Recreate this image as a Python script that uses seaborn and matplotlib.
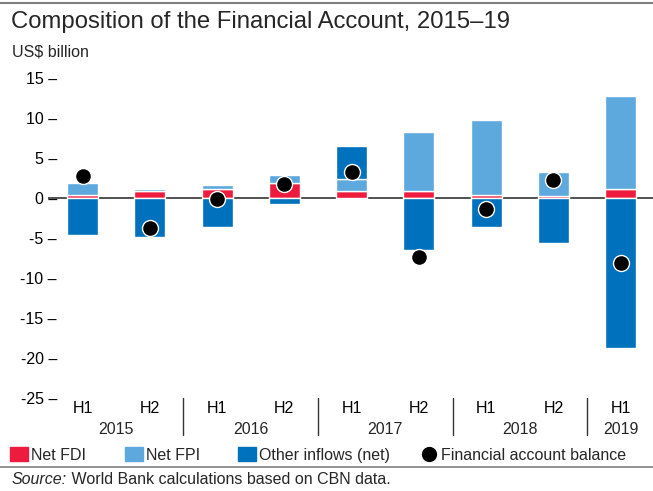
import matplotlib
matplotlib.use("Agg")
import matplotlib.pyplot as plt
import matplotlib.transforms as mtransforms
from matplotlib.lines import Line2D
from matplotlib.patches import Patch
import seaborn as sns
import pandas as pd
import numpy as np

# data (US$ billion)
periods = ["2015 H1", "2015 H2", "2016 H1", "2016 H2", "2017 H1",
           "2017 H2", "2018 H1", "2018 H2", "2019 H1"]
halves = ["H1", "H2", "H1", "H2", "H1", "H2", "H1", "H2", "H1"]
years = ["2015", "2016", "2017", "2018", "2019"]
net_fdi = [0.35, 0.85, 1.1, 1.85, 0.85, 0.85, 0.35, 0.25, 1.1]
net_fpi = [1.5, 0.25, 0.5, 1.0, 1.5, 7.3, 9.4, 2.9, 11.55]
other_inflows = [-4.65, -4.9, -3.65, -0.75, 4.15, -6.5, -3.65, -5.65, -18.8]
fa_balance = [2.75, -3.75, -0.2, 1.75, 3.15, -7.4, -1.4, 2.2, -8.15]

RED = "#ED1B3E"
LIGHT = "#5DA8DC"
DARK = "#0071BC"
FS = 11.5

sns.set_theme(style="white")
plt.rcParams["font.family"] = ["Liberation Sans", "DejaVu Sans"]

df = pd.DataFrame({
    "period": periods,
    "fdi": net_fdi,
    "fpi": net_fpi,
    "other": other_inflows,
    "balance": fa_balance,
})
df["fpi_base"] = df["fdi"]
df["other_base"] = np.where(df["other"] > 0, df["fdi"] + df["fpi"], 0.0)

fig = plt.figure(figsize=(6.53, 4.91), dpi=100)
ax = fig.add_axes([48 / 653, 1 - 397.5 / 491, 605 / 653, 328 / 491])

bar_w = 0.46
sns.barplot(data=df, x="period", y="fdi", color=RED, saturation=1,
            width=bar_w, errorbar=None, ax=ax, zorder=2)
sns.barplot(data=df, x="period", y="fpi", color=LIGHT, saturation=1,
            width=bar_w, errorbar=None, ax=ax, zorder=2,
            bottom=df["fpi_base"].values)
sns.barplot(data=df, x="period", y="other", color=DARK, saturation=1,
            width=bar_w, errorbar=None, ax=ax, zorder=2,
            bottom=df["other_base"].values)
sns.stripplot(data=df, x="period", y="balance", jitter=False, color="black",
              size=11.5, edgecolor="white", linewidth=1, ax=ax, zorder=5)

ax.axhline(0, color="#333333", lw=1.2, zorder=1)

ax.set_ylim(-25, 16)
ax.set_xlim(-0.513, 8.48)
for s in ax.spines.values():
    s.set_visible(False)
ax.grid(False)
ax.set_xlabel("")
ax.set_ylabel("")

yt = list(range(-25, 16, 5))
ax.set_yticks(yt)
ax.set_yticklabels([f"{v} \u2013" for v in yt], fontsize=FS)
ax.tick_params(axis="y", length=0, pad=-6.5, colors="black")
ax.set_xticks(range(len(periods)))
ax.set_xticklabels(halves, fontsize=FS)
ax.tick_params(axis="x", length=0, pad=2.5, colors="black")

# year labels and group separators under the axis
trans = mtransforms.blended_transform_factory(ax.transData, ax.transAxes)
for i, yr in enumerate(years):
    idx = [j for j, p in enumerate(periods) if p.startswith(yr)]
    ax.text(np.mean(idx), -0.097, yr, transform=trans, ha="center",
            va="center", fontsize=FS)
for xs in [1.5, 3.5, 5.5, 7.5]:
    ax.plot([xs, xs], [0, -0.113], transform=trans, color="#333333",
            lw=1, clip_on=False)

# header
fig.add_artist(Line2D([0, 1], [0.994, 0.994], transform=fig.transFigure,
                      color="#808080", lw=1.5))
fig.text(11 / 653, 1 - 28 / 491, "Composition of the Financial Account, 2015\u201319",
         fontsize=17.2, va="baseline", ha="left")
fig.text(12 / 653, 1 - 56 / 491, "US$ billion", fontsize=FS,
         va="baseline", ha="left")

# legend, one entry at a time to keep the spacing of the original
leg_y = 1 - 455 / 491
entries = [
    (Patch(color=RED), "Net FDI", 10),
    (Patch(color=LIGHT), "Net FPI", 125),
    (Patch(color=DARK), "Other inflows (net)", 237.5),
    (Line2D([], [], marker="o", ls="none", markersize=12,
            markerfacecolor="black", markeredgecolor="white"),
     "Financial account balance", 420),
]
for h, lab, px in entries:
    fig.legend(handles=[h], labels=[lab], loc="center left",
               bbox_to_anchor=(px / 653, leg_y), frameon=False,
               borderpad=0, borderaxespad=0, handlelength=1.13,
               handleheight=0.88, handletextpad=0.2, fontsize=FS)

# footer
fig.add_artist(Line2D([0, 1], [1 - 467 / 491] * 2, transform=fig.transFigure,
                      color="#808080", lw=1.2))
src = fig.text(12 / 653, 1 - 484 / 491, "Source:", fontsize=FS,
               style="italic", va="baseline", ha="left")
fig.canvas.draw()
bb = src.get_window_extent()
fig.text(bb.x1 / fig.bbox.width, 1 - 484 / 491,
         " World Bank calculations based on CBN data.", fontsize=FS,
         va="baseline", ha="left")

fig.savefig("out.png", dpi=100)
plt.close(fig)
